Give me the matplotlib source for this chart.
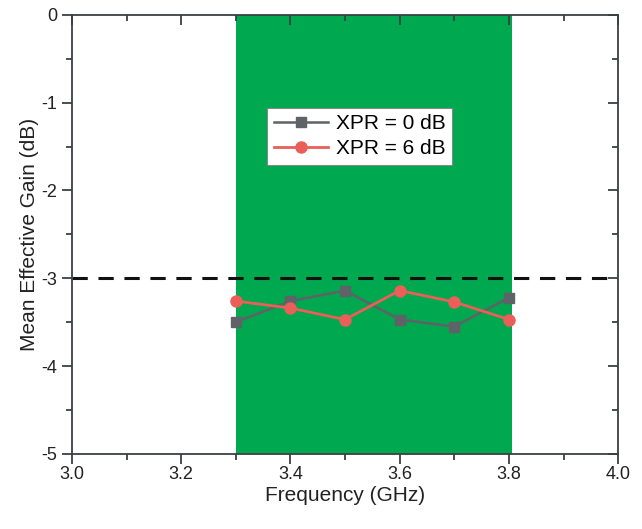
import matplotlib
matplotlib.use("Agg")
import matplotlib.pyplot as plt
from matplotlib.ticker import MultipleLocator

plt.rcParams['font.family'] = ['Liberation Sans', 'DejaVu Sans']

freq = [3.3, 3.4, 3.5, 3.6, 3.7, 3.8]
xpr0 = [-3.50, -3.26, -3.14, -3.47, -3.55, -3.22]
xpr6 = [-3.26, -3.34, -3.47, -3.14, -3.27, -3.47]
band = [3.3, 3.805]
threshold = -3.0

fig = plt.figure(figsize=(6.42, 5.29), dpi=100)
ax = fig.add_axes([0.112, 0.142, 0.851, 0.830])
spine_c = '#3b4045'

ax.axvspan(band[0], band[1], color='#00a84f', zorder=0, lw=0)
ax.axhline(threshold, color='#111111', ls=(0, (5, 3.5)), lw=2.2, zorder=2)
ax.plot(freq, xpr0, color='#5f6266', marker='s', ms=6.5, lw=1.8, label='XPR = 0 dB', zorder=3)
ax.plot(freq, xpr6, color='#ea5f58', marker='o', ms=8, lw=2.0, label='XPR = 6 dB', zorder=4)

ax.set_xlim(3.0, 4.0)
ax.set_ylim(-5, 0)
ax.xaxis.set_minor_locator(MultipleLocator(0.1))
ax.yaxis.set_minor_locator(MultipleLocator(0.5))
ax.set_xticks([3.0, 3.2, 3.4, 3.6, 3.8, 4.0])
ax.set_xticklabels(['3.0', '3.2', '3.4', '3.6', '3.8', '4.0'])
ax.set_yticks([0, -1, -2, -3, -4, -5])
ax.set_yticklabels(['0', '-1', '-2', '-3', '-4', '-5'])

ax.tick_params(which='both', direction='out', colors=spine_c, labelcolor='#222222', labelsize=13, width=1.3)
ax.tick_params(which='major', length=7)
ax.tick_params(which='minor', length=4)
ax.tick_params(axis='x', pad=2)
for s in ax.spines.values():
    s.set_color(spine_c)
    s.set_linewidth(1.3)

# mirrored inward ticks on right and top
axr = ax.secondary_yaxis('right')
axr.yaxis.set_major_locator(MultipleLocator(1))
axr.yaxis.set_minor_locator(MultipleLocator(0.5))
axr.tick_params(which='both', direction='in', colors=spine_c, labelright=False, width=1.3)
axr.tick_params(which='major', length=7)
axr.tick_params(which='minor', length=4)
axr.spines['right'].set_visible(False)
axt = ax.secondary_xaxis('top')
axt.xaxis.set_major_locator(MultipleLocator(0.2))
axt.xaxis.set_minor_locator(MultipleLocator(0.1))
axt.tick_params(which='both', direction='in', colors=spine_c, labeltop=False, width=1.3)
axt.tick_params(which='major', length=7)
axt.tick_params(which='minor', length=4)
axt.spines['top'].set_visible(False)

ax.set_xlabel('Frequency (GHz)', fontsize=15, color='#222222', labelpad=2)
ax.set_ylabel('Mean Effective Gain (dB)', fontsize=15, color='#222222', labelpad=2)

leg = ax.legend(loc='upper left', bbox_to_anchor=(0.358, 0.788), fontsize=15,
                frameon=True, fancybox=False, edgecolor='#888888', framealpha=1,
                handlelength=2.6, borderpad=0.3, labelspacing=0.3, handletextpad=0.4,
                borderaxespad=0)
leg.get_frame().set_linewidth(0.8)

fig.savefig('out.png', dpi=100)
